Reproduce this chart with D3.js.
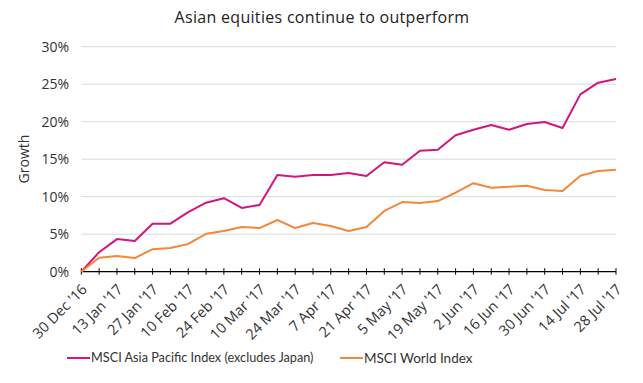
<!DOCTYPE html>
<html><head><meta charset="utf-8">
<script src="https://cdn.jsdelivr.net/npm/d3@7"></script>
<style>body{margin:0;background:#fff}svg{display:block;font-family:Lato,"Open Sans",sans-serif}</style>
</head><body>
<svg id="c" width="643" height="383"></svg>
<script>
const dates = ["30 Dec '16","6 Jan '17","13 Jan '17","20 Jan '17","27 Jan '17","3 Feb '17","10 Feb '17","17 Feb '17","24 Feb '17","3 Mar '17","10 Mar '17","17 Mar '17","24 Mar '17","31 Mar '17","7 Apr '17","14 Apr '17","21 Apr '17","28 Apr '17","5 May '17","12 May '17","19 May '17","26 May '17","2 Jun '17","9 Jun '17","16 Jun '17","23 Jun '17","30 Jun '17","7 Jul '17","14 Jul '17","21 Jul '17","28 Jul '17"];
const tickLabels = ["30 Dec '16","13 Jan '17","27 Jan '17","10 Feb '17","24 Feb '17","10 Mar '17","24 Mar '17","7 Apr '17","21 Apr '17","5 May '17","19 May '17","2 Jun '17","16 Jun '17","30 Jun '17","14 Jul '17","28 Jul '17"];
const asiaPac = [0,2.6,4.35,4.1,6.4,6.4,7.95,9.2,9.8,8.5,8.9,12.9,12.65,12.9,12.9,13.15,12.75,14.6,14.27,16.13,16.27,18.2,18.93,19.56,18.93,19.7,19.96,19.16,23.64,25.2,25.7];
const world = [0,1.87,2.09,1.82,3.0,3.15,3.7,5.05,5.42,5.96,5.82,6.89,5.82,6.5,6.1,5.42,5.96,8.1,9.29,9.16,9.42,10.53,11.8,11.2,11.33,11.45,10.9,10.76,12.8,13.42,13.6];
const yTicks = [0,5,10,15,20,25,30];
const seriesNames = ["MSCI Asia Pacific Index (excludes Japan)","MSCI World Index"];
const colors = ["#d4147f","#f5873a"];

const svg = d3.select("#c");
const x = d3.scalePoint().domain(dates).range([81.3,616]);
const y = d3.scaleLinear().domain([0,30]).range([271.7,46.7]);

svg.append("text").attr("x",322).attr("y",23).attr("text-anchor","middle")
  .attr("font-family","'Open Sans',sans-serif").attr("letter-spacing",0.3)
  .attr("font-size",16).attr("fill","#222").text("Asian equities continue to outperform");

// grid
svg.append("g").selectAll("line").data(yTicks.slice(1)).join("line")
  .attr("x1",81.3).attr("x2",616).attr("y1",d=>y(d)).attr("y2",d=>y(d))
  .attr("stroke","#d9d9d9").attr("stroke-width",1);

// y labels
svg.append("g").selectAll("text").data(yTicks).join("text")
  .attr("x",69).attr("y",d=>y(d)).attr("dy","0.35em").attr("text-anchor","end")
  .attr("font-family","'Open Sans',sans-serif")
  .attr("font-size",14).attr("fill","#333").text(d=>d+"%");

svg.append("text").attr("transform","translate(29,159) rotate(-90)").attr("text-anchor","middle")
  .attr("font-family","'Open Sans',sans-serif")
  .attr("font-size",14).attr("fill","#333").text("Growth");

// x axis
const xa = svg.append("g").attr("transform",`translate(0,${y(0)})`);
xa.append("line").attr("x1",81.3).attr("x2",616).attr("stroke","#000").attr("stroke-width",1.2);
xa.selectAll("line.t").data(dates).join("line").attr("class","t")
  .attr("x1",d=>x(d)).attr("x2",d=>x(d)).attr("y1",-3.5).attr("y2",3).attr("stroke","#000").attr("stroke-width",1);
xa.selectAll("text").data(tickLabels).join("text")
  .attr("transform",d=>`translate(${x(d)+3},15) rotate(-45)`).attr("text-anchor","end")
  .attr("font-family","'Open Sans',sans-serif")
  .attr("dy","0.35em").attr("font-size",14.5).attr("fill","#333").text(d=>d);

// lines
const line = d3.line().x((d,i)=>x(dates[i])).y(d=>y(d));
[asiaPac, world].forEach((s,k)=>{
  svg.append("path").datum(s).attr("d",line).attr("fill","none")
    .attr("stroke",colors[k]).attr("stroke-width",2).attr("stroke-linejoin","round");
});

// legend
const lg = [[67,seriesNames[0]],[340,seriesNames[1]]];
lg.forEach(([lx,t],k)=>{
  svg.append("line").attr("x1",lx).attr("x2",lx+23).attr("y1",358).attr("y2",358).attr("stroke",colors[k]).attr("stroke-width",2);
  svg.append("text").attr("x",lx+24).attr("y",358).attr("dy","0.35em").attr("font-size",k?13.5:12.7).attr("fill","#333").text(t);
});
</script>
</body></html>
